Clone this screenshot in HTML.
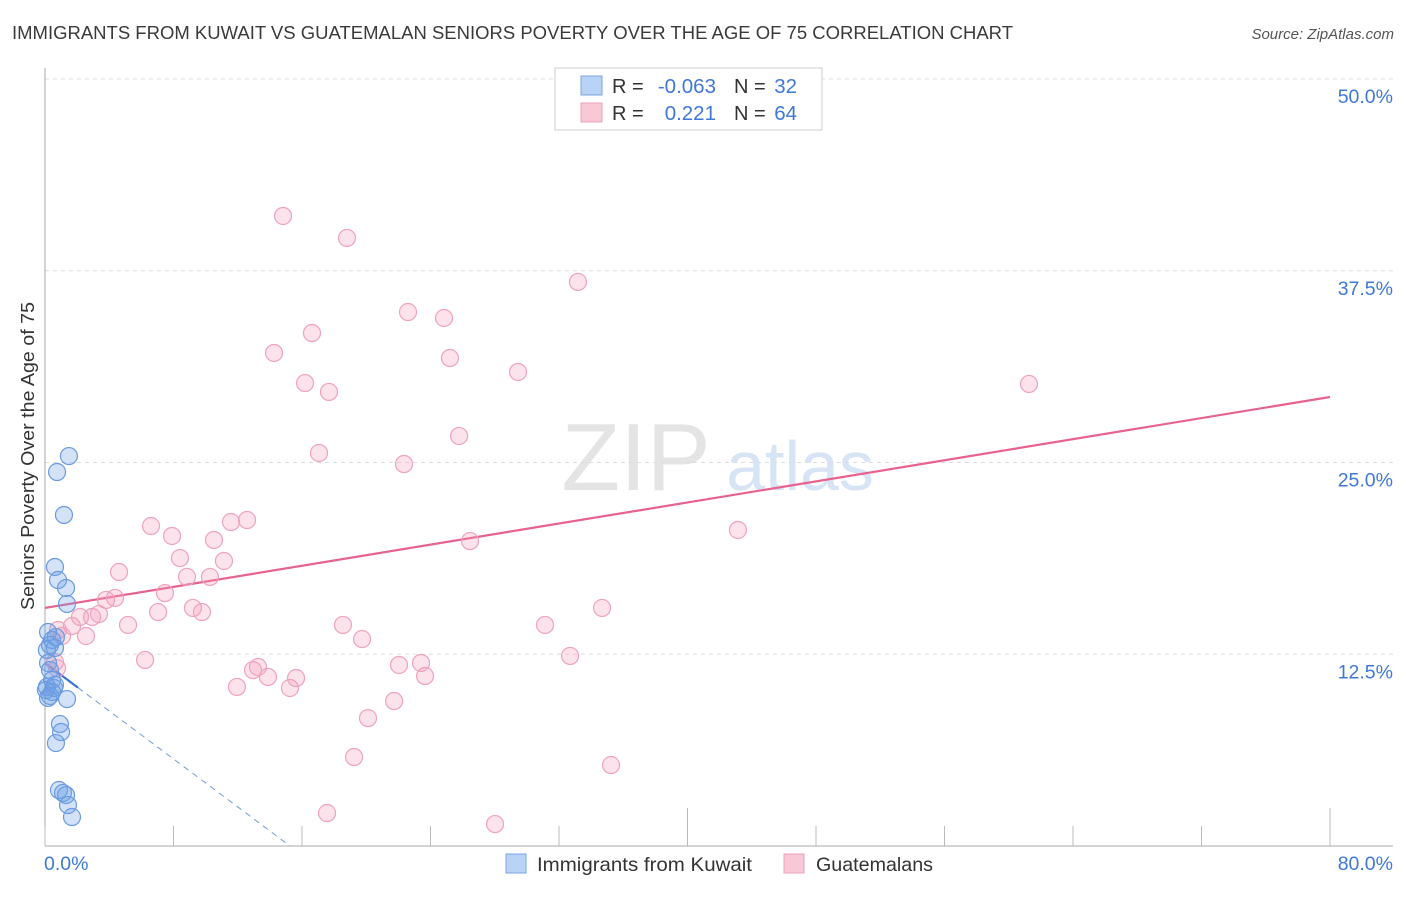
<!DOCTYPE html>
<html><head><meta charset="utf-8"><style>
body{margin:0;background:#fff;font-family:"Liberation Sans",sans-serif;}
svg text{font-family:"Liberation Sans",sans-serif;}
</style></head><body>
<svg id="chart" width="1406" height="892" xmlns="http://www.w3.org/2000/svg">
<text x="12" y="39" font-size="18" fill="#3a3a3a" textLength="1001" lengthAdjust="spacingAndGlyphs">IMMIGRANTS FROM KUWAIT VS GUATEMALAN SENIORS POVERTY OVER THE AGE OF 75 CORRELATION CHART</text>
<text x="1394" y="39" font-size="15" fill="#555" font-style="italic" text-anchor="end">Source: ZipAtlas.com</text>
<text transform="translate(34,456) rotate(-90)" font-size="18.5" fill="#333" text-anchor="middle" textLength="308" lengthAdjust="spacingAndGlyphs">Seniors Poverty Over the Age of 75</text>
<g>
<text x="636" y="490" font-size="96" fill="#e4e4e4" font-family="Liberation Serif" text-anchor="middle">ZIP</text>
<text x="800" y="490" font-size="70" fill="#d6e4f5" text-anchor="middle">atlas</text>
</g>
<g id="grid"></g><g id="axes"></g><g id="lines"></g><g id="pts"></g>
<g>
<rect x="555" y="68" width="267" height="62" fill="#fff" stroke="#ccc"/>
<rect x="581" y="76" width="21" height="19" fill="#b8d3f5" stroke="#7aa6e3"/>
<rect x="581" y="103" width="21" height="19" fill="#f9c8d6" stroke="#eea0b8"/>
<text x="612" y="93" font-size="20" fill="#333">R =</text>
<text x="716" y="93" font-size="20.5" fill="#3f78d8" text-anchor="end">-0.063</text>
<text x="734" y="93" font-size="20" fill="#333">N =</text>
<text x="797" y="93" font-size="20.5" fill="#3f78d8" text-anchor="end">32</text>
<text x="612" y="120" font-size="20" fill="#333">R =</text>
<text x="716" y="120" font-size="20.5" fill="#3f78d8" text-anchor="end">0.221</text>
<text x="734" y="120" font-size="20" fill="#333">N =</text>
<text x="797" y="120" font-size="20.5" fill="#3f78d8" text-anchor="end">64</text>
</g>
<g>
<rect x="506" y="854" width="20" height="19" fill="#b8d3f5" stroke="#7aa6e3"/>
<text x="537" y="871" font-size="19.5" fill="#333" textLength="215" lengthAdjust="spacingAndGlyphs">Immigrants from Kuwait</text>
<rect x="784" y="854" width="20" height="19" fill="#f9c8d6" stroke="#eea0b8"/>
<text x="816" y="871" font-size="19.5" fill="#333" textLength="117" lengthAdjust="spacingAndGlyphs">Guatemalans</text>
</g>
</svg>
<script>
const blueX=[1.49,0.75,1.18,0.62,0.81,1.31,1.37,0.19,0.44,0.62,0.19,0.31,0.44,0.12,0.56,0.31,0.19,1.37,0.93,1.0,0.68,0.87,1.12,1.31,1.43,1.68,0.12,0.68,0.31,0.06,0.62,0.44];
const blueY=[25.42,24.38,21.58,18.19,17.34,16.82,15.78,13.95,13.43,12.91,11.93,11.47,10.82,10.37,10.30,9.78,9.65,9.58,7.95,7.43,6.71,3.65,3.46,3.32,2.67,1.89,12.78,13.62,13.10,10.17,10.50,10.04];
const pinkX=[14.82,18.80,33.18,22.60,24.84,16.62,14.26,25.21,29.45,16.19,17.68,61.26,25.78,17.06,22.35,6.60,7.91,12.58,11.58,10.52,26.46,43.14,8.40,11.14,4.61,8.84,10.27,4.36,3.80,7.47,9.21,9.77,7.04,3.36,2.93,2.18,5.17,1.68,18.55,31.13,34.68,19.74,2.55,1.06,0.81,0.62,0.75,6.23,11.95,12.95,13.26,13.88,15.25,15.63,22.04,23.41,23.66,21.73,20.11,19.24,35.24,17.56,28.02,32.69];
const pinkY=[41.07,39.64,36.77,34.81,34.42,33.44,32.14,31.81,30.90,30.18,29.60,30.12,26.73,25.62,24.90,20.86,20.21,21.25,21.12,19.95,19.88,20.60,18.77,18.58,17.86,17.54,17.54,16.17,16.04,16.49,15.52,15.25,15.25,15.12,14.93,14.93,14.41,14.34,14.41,14.41,15.52,13.49,13.69,13.69,14.08,11.99,11.60,12.13,10.37,11.47,11.67,11.02,10.30,10.95,11.80,11.93,11.08,9.45,8.34,5.80,5.28,2.15,1.43,12.39];
const yTicks=[12.5,25,37.5,50];
const yTickLabels=["12.5%","25.0%","37.5%","50.0%"];
const xTicks=[0,8,16,24,32,40,48,56,64,72,80];
const xTickLabels=["0.0%","80.0%"];
const pinkTrend=[15.52,29.27];
const blueTrend=[11.93,-0.782];
const NS="http://www.w3.org/2000/svg";
const sx=v=>45+v/80*1285, sy=v=>846-v/50*767;
function mk(p,t,a){const e=document.createElementNS(NS,t);for(const k in a)e.setAttribute(k,a[k]);p.appendChild(e);return e;}
const grid=document.getElementById('grid'),axes=document.getElementById('axes'),lines=document.getElementById('lines'),pts=document.getElementById('pts');
yTicks.forEach((t,i)=>{
 const l=mk(grid,'line',{x1:45,x2:1393,y1:sy(t),y2:sy(t),stroke:'#ddd','stroke-dasharray':'4,4'});
 
 
 const tx=mk(axes,'text',{x:1393,y:sy(t)+24,'font-size':19.5,fill:'#3f78d8','text-anchor':'end'});
 tx.textContent=yTickLabels[i];
 
 
});
const ya=mk(axes,'line',{x1:45,x2:45,y1:68,y2:846,stroke:'#aaa'});


const xa=mk(axes,'line',{x1:45,x2:1393,y1:846,y2:846,stroke:'#aaa'});


xTicks.forEach(t=>{
 const tk=mk(axes,'line',{x1:sx(t),x2:sx(t),y1:(t==40||t==80)?808:826,y2:846,stroke:'#bbb'});
 
 
});
[[0,'start',xTickLabels[0]],[80,'end',xTickLabels[1]]].forEach(d=>{
 const tx=mk(axes,'text',{x:d[0]==0?44:1393,y:870,'font-size':19.5,fill:'#3f78d8','text-anchor':d[1]});
 tx.textContent=d[2];
 
 
});
pinkX.forEach((x,i)=>{
 const c=mk(pts,'circle',{cx:sx(x),cy:sy(pinkY[i]),r:8.5,fill:'rgba(245,160,190,0.3)',stroke:'#eea3bb','stroke-width':1.2});
 
 
});
blueX.forEach((x,i)=>{
 const c=mk(pts,'circle',{cx:sx(x),cy:sy(blueY[i]),r:8.5,fill:'rgba(110,160,230,0.3)',stroke:'#6a9be0','stroke-width':1.2});
 
 
});
const pl=mk(lines,'line',{x1:sx(0),y1:sy(pinkTrend[0]),x2:sx(80),y2:sy(pinkTrend[1]),stroke:'#e8628f','stroke-width':2.2});


const xe=-blueTrend[0]/blueTrend[1];
const bd=mk(lines,'line',{x1:sx(2.05),y1:sy(blueTrend[0]+blueTrend[1]*2.05),x2:sx(xe),y2:sy(0),stroke:'#6f9ae0','stroke-width':1,'stroke-dasharray':'6,5'});


const bl=mk(lines,'line',{x1:sx(0),y1:sy(blueTrend[0]),x2:sx(2.05),y2:sy(blueTrend[0]+blueTrend[1]*2.05),stroke:'#3a72d6','stroke-width':2.2});


</script>
</body></html>
